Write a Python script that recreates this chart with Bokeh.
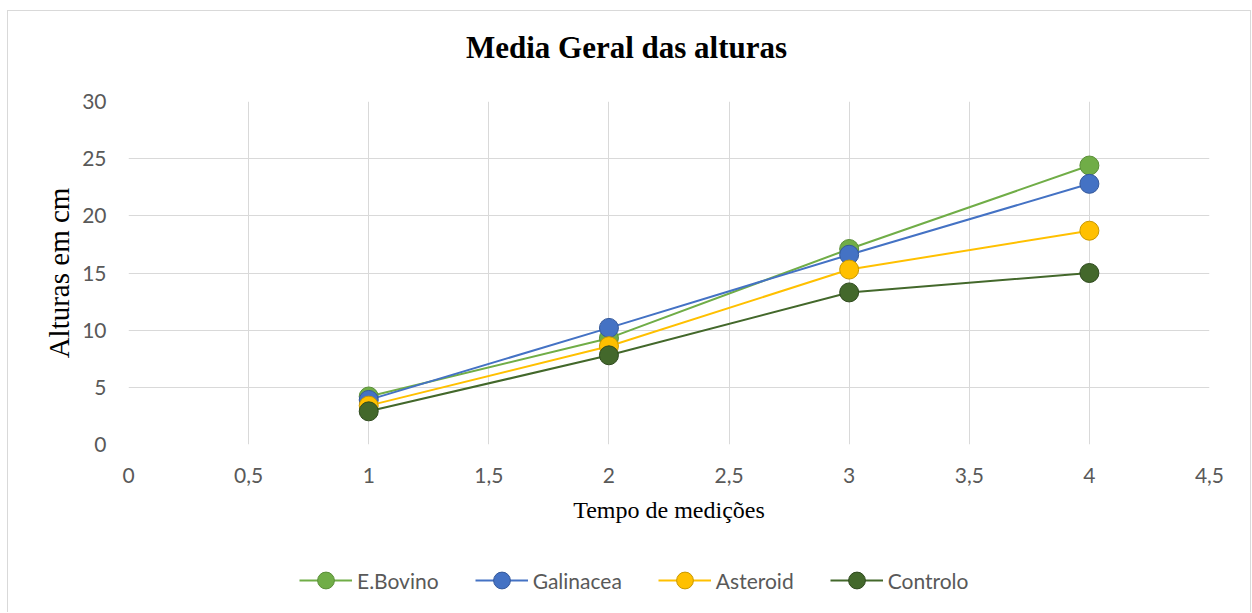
from bokeh.plotting import figure
from bokeh.models import Range1d, FixedTicker, Legend, LegendItem, Label
from bokeh.layouts import column
from bokeh.embed import file_html
from bokeh.resources import INLINE

# ---- data ----
tempo = [1, 2, 3, 4]
series_names = ["E.Bovino", "Galinacea", "Asteroid", "Controlo"]
e_bovino = [4.2, 9.3, 17.1, 24.4]
galinacea = [3.9, 10.2, 16.6, 22.8]
asteroid = [3.4, 8.6, 15.3, 18.7]
controlo = [2.9, 7.8, 13.3, 15.0]
x_ticks = [0, 0.5, 1, 1.5, 2, 2.5, 3, 3.5, 4, 4.5]
x_tick_labels = ["0", "0,5", "1", "1,5", "2", "2,5", "3", "3,5", "4", "4,5"]
y_ticks = [0, 5, 10, 15, 20, 25, 30]
chart_title = "Media Geral das alturas"

colors = ["#70AD47", "#4472C4", "#FFC000", "#43682B"]
edges = ["#5A8F38", "#35599B", "#C99800", "#2F4A1E"]

W = 1242
FRAME_W = 1081
H_TITLE = 75
H_MAIN = 444
H_LEG = 82


def strip(height):
    f = figure(width=W, height=height, output_backend="svg", toolbar_location=None,
               x_range=Range1d(0, FRAME_W), y_range=Range1d(0, height),
               x_axis_location=None, y_axis_location=None,
               min_border_left=120, min_border_right=41, min_border_top=0, min_border_bottom=0)
    f.grid.visible = False
    f.outline_line_color = None
    f.border_fill_color = "white"
    f.background_fill_color = "white"
    return f


# title strip
pt = strip(H_TITLE)
pt.add_layout(Label(x=498, y=39, text=chart_title, text_align="center",
                    text_baseline="alphabetic", text_font="Liberation Serif",
                    text_font_style="bold", text_font_size="31px", text_color="black"))

# main chart
p = figure(width=W, height=H_MAIN, output_backend="svg", toolbar_location=None,
           x_range=Range1d(0, 4.5), y_range=Range1d(0, 30),
           min_border_left=120, min_border_right=41, min_border_top=15, min_border_bottom=86)
p.outline_line_color = None
p.background_fill_color = "white"
p.border_fill_color = "white"

tick_font = "Lato"
p.xaxis.ticker = FixedTicker(ticks=x_ticks)
p.yaxis.ticker = FixedTicker(ticks=y_ticks)
p.xaxis.major_label_overrides = {t: l for t, l in zip(x_ticks, x_tick_labels)}
for ax in (p.xaxis, p.yaxis):
    ax.axis_line_color = None
    ax.major_tick_line_color = None
    ax.minor_tick_line_color = None
    ax.major_label_text_font = tick_font
    ax.major_label_text_font_size = "21px"
    ax.major_label_text_color = "#595959"
    ax.axis_label_text_font = "Liberation Serif"
    ax.axis_label_text_font_style = "normal"
    ax.axis_label_text_color = "black"
p.xaxis.major_label_standoff = 17
p.yaxis.major_label_standoff = 16
p.xaxis.axis_label = "Tempo de medições"
p.xaxis.axis_label_text_font_size = "24px"
p.xaxis.axis_label_standoff = 11
p.yaxis.axis_label = "Alturas em cm"
p.yaxis.axis_label_text_font_size = "29px"
p.yaxis.axis_label_standoff = 4

p.xgrid.grid_line_color = "#d9d9d9"
p.ygrid.grid_line_color = "#d9d9d9"
p.xgrid.grid_line_width = 1
p.ygrid.grid_line_width = 1

for name, ys, c, e in zip(series_names, [e_bovino, galinacea, asteroid, controlo], colors, edges):
    p.line(tempo, ys, line_color=c, line_width=2)
    p.scatter(tempo, ys, size=19, fill_color=c, line_color=e, line_width=1)

# legend strip below the chart (proxy renderers sit outside the visible range)
pl = strip(H_LEG)
items = []
for name, c, e in zip(series_names, colors, edges):
    l = pl.line([-100, -90], [-100, -100], line_color=c, line_width=2)
    s = pl.scatter([-100], [-100], fill_color=c, line_color=e, line_width=1)
    items.append(LegendItem(label=name, renderers=[l, s]))

legend = Legend(items=items, orientation="horizontal", location=(171, 11),
                glyph_width=53, glyph_height=42, label_height=42, label_standoff=5,
                spacing=36, padding=0, margin=0,
                label_text_font=tick_font, label_text_font_size="21px",
                label_text_color="#595959", border_line_color=None,
                background_fill_alpha=0)
pl.add_layout(legend, "center")

layout = column(pt, p, pl, spacing=0,
                styles={"border": "1px solid #d9d9d9", "border-bottom": "none",
                        "margin": "10px 0 0 7px"})

open("out.html", "w").write(file_html(layout, INLINE))
